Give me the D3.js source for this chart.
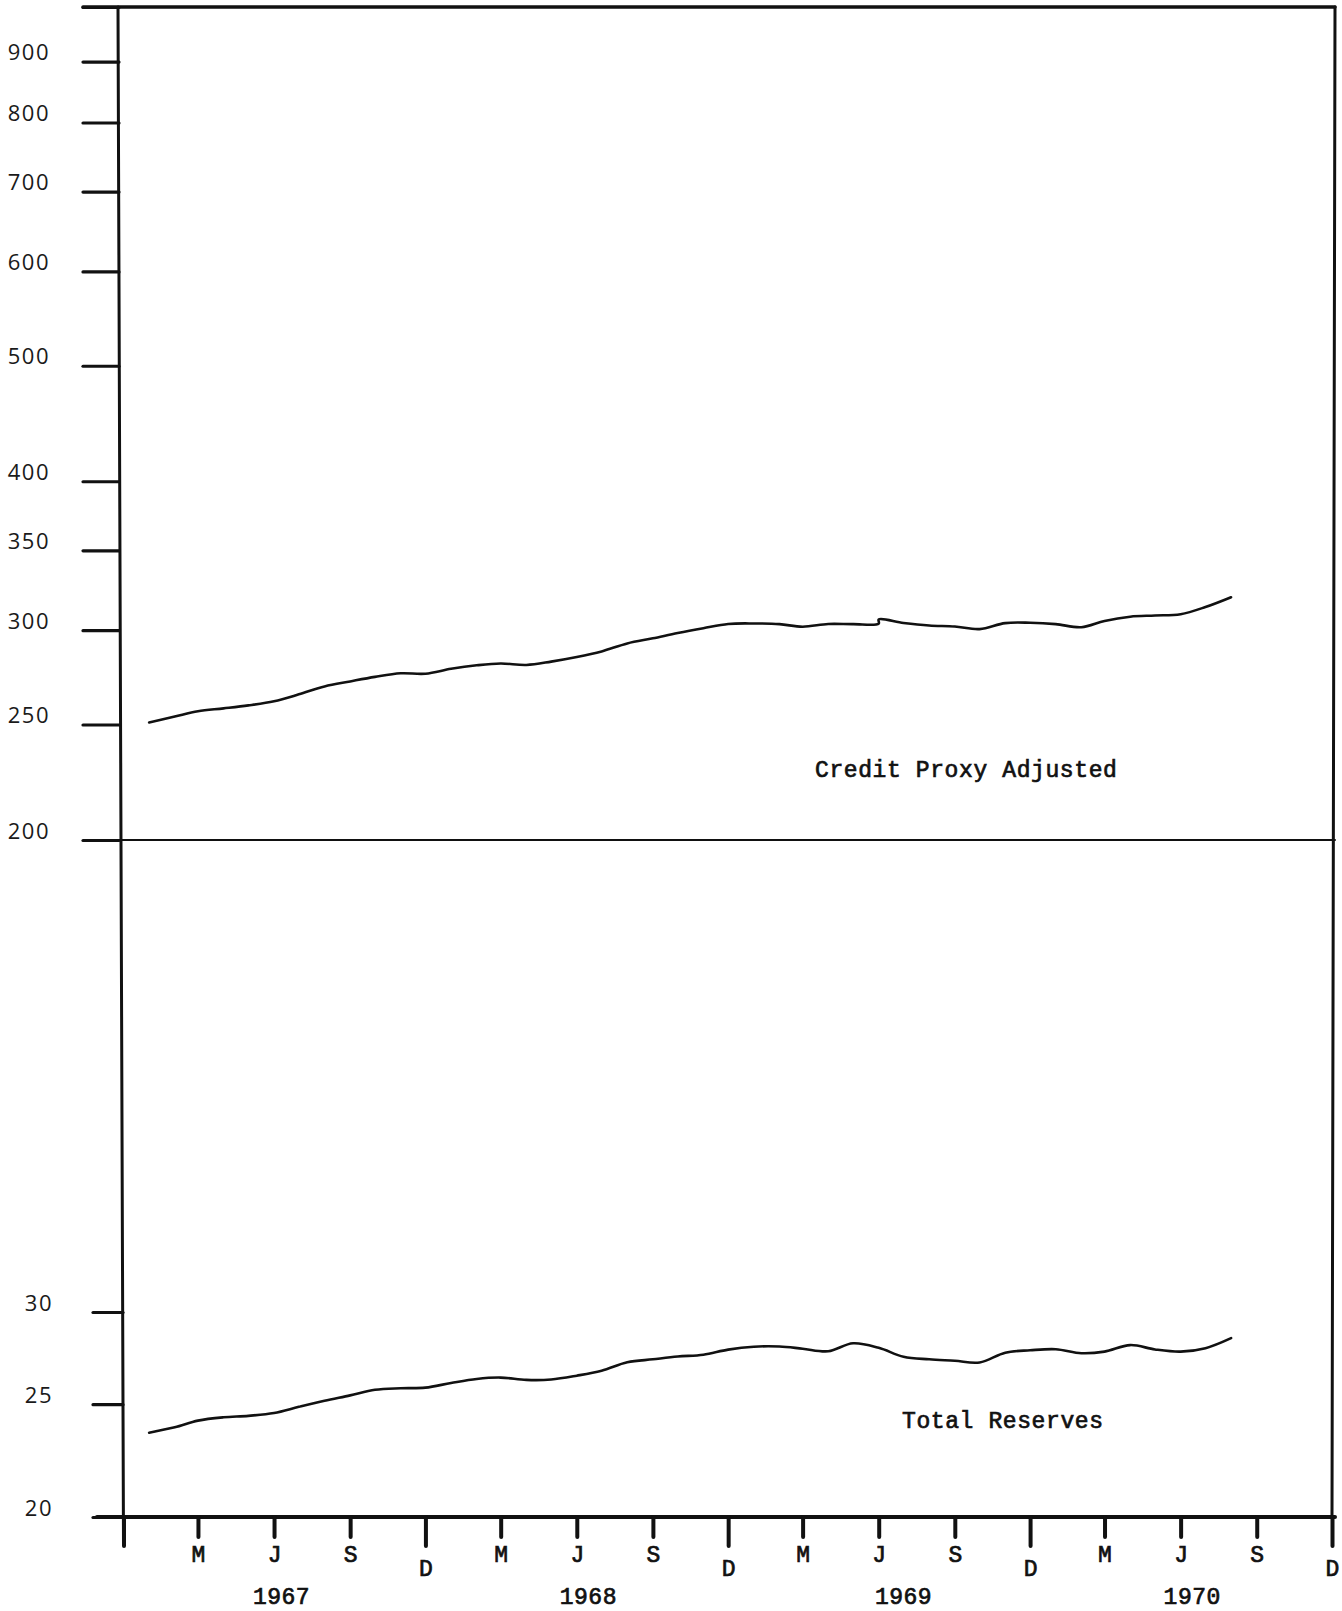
<!DOCTYPE html>
<html><head><meta charset="utf-8">
<script src="https://cdn.jsdelivr.net/npm/d3@7"></script>
<style>
html,body{margin:0;padding:0;background:#fff;}
svg{display:block;}
</style></head>
<body>
<svg id="chart" width="1342" height="1611"></svg>
<script>
// ---------------- DATA ----------------
const creditMonths = [
  "1967-01","1967-02","1967-03","1967-04","1967-05","1967-06","1967-07","1967-08","1967-09","1967-10","1967-11","1967-12",
  "1968-01","1968-02","1968-03","1968-04","1968-05","1968-06","1968-07","1968-08","1968-09","1968-10","1968-11","1968-12",
  "1969-01","1969-02","1969-03","1969-04","1969-05","1969-06","1969-06","1969-07","1969-08","1969-09","1969-10","1969-11","1969-12",
  "1970-01","1970-02","1970-03","1970-04","1970-05","1970-06","1970-07","1970-08"
];
const creditProxyAdjusted = [
  251.0,253.9,256.5,257.9,259.4,261.5,265.0,269.1,271.7,274.1,276.0,275.8,
  278.4,280.3,281.3,280.5,282.3,284.8,287.9,292.4,295.3,298.3,301.1,303.6,
  303.9,303.5,302.0,303.6,303.5,303.8,306.3,304.2,302.7,302.1,300.6,304.1,304.3,
  303.5,301.7,305.4,307.9,308.6,309.4,313.7,319.7
];
const reserveMonths = [
  "1967-01","1967-02","1967-03","1967-04","1967-05","1967-06","1967-07","1967-08","1967-09","1967-10","1967-11","1967-12",
  "1968-01","1968-02","1968-03","1968-04","1968-05","1968-06","1968-07","1968-08","1968-09","1968-10","1968-11","1968-12",
  "1969-01","1969-02","1969-03","1969-04","1969-05","1969-06","1969-07","1969-08","1969-09","1969-10","1969-11","1969-12",
  "1970-01","1970-02","1970-03","1970-04","1970-05","1970-06","1970-07","1970-08"
];
const totalReserves = [
  23.63,23.88,24.20,24.36,24.43,24.57,24.87,25.17,25.44,25.72,25.80,25.83,
  26.07,26.28,26.35,26.23,26.25,26.45,26.71,27.16,27.32,27.47,27.57,27.85,
  28.01,28.02,27.90,27.76,28.20,27.95,27.46,27.32,27.24,27.15,27.68,27.81,
  27.87,27.65,27.74,28.10,27.86,27.74,27.93,28.49
];
const topTicks = [200,250,300,350,400,500,600,700,800,900,1000];
const topTickLabels = ["200","250","300","350","400","500","600","700","800","900",""];
const bottomTicks = [20,25,30];
const bottomTickLabels = ["20","25","30"];
const xTickMonths = ["1966-12","1967-03","1967-06","1967-09","1967-12","1968-03","1968-06","1968-09","1968-12",
  "1969-03","1969-06","1969-09","1969-12","1970-03","1970-06","1970-09","1970-12"];
const xTickLabels = ["","M","J","S","D","M","J","S","D","M","J","S","D","M","J","S","D"];
const yearLabels = ["1967","1968","1969","1970"];
const yearLabelDates = ["1967-06-10","1968-06-15","1969-07-01","1970-06-15"];
const seriesNames = ["Credit Proxy Adjusted","Total Reserves"];

// ---------------- SETUP ----------------
const parseM = d3.timeParse("%Y-%m");
const parseD = d3.timeParse("%Y-%m-%d");
const svg = d3.select("#chart");
const ink = "#111";
const mono = "'Liberation Mono', 'DejaVu Sans Mono', monospace";
const sans = "'Open Sans', 'Noto Sans', sans-serif";

const x = d3.scaleTime()
  .domain([parseM("1966-12"), parseM("1970-12")])
  .range([123.5, 1332]);
const yTop = d3.scaleLog().domain([200, 1000]).range([840, 7]);
const yBot = d3.scaleLog().domain([20, 30]).range([1517, 1312]);

const frame = svg.append("g").attr("fill","none").attr("stroke", ink).attr("stroke-linecap","round");
frame.append("line").attr("x1",83).attr("x2",1335).attr("y1",yTop(1000)).attr("y2",yTop(1000)).attr("stroke-width",3.5);
frame.append("line").attr("x1",1335).attr("x2",1332).attr("y1",yTop(1000)).attr("y2",yBot(20)).attr("stroke-width",3);
frame.append("line").attr("x1",118).attr("x2",123.5).attr("y1",yTop(1000)).attr("y2",1545).attr("stroke-width",3);
frame.append("line").attr("x1",119).attr("x2",1335).attr("y1",yTop(200)).attr("y2",yTop(200)).attr("stroke-width",2);
frame.append("line").attr("x1",97).attr("x2",1335).attr("y1",yBot(20)).attr("y2",yBot(20)).attr("stroke-width",4);

// ---------------- Y AXES ----------------
const topAxis = svg.append("g").attr("transform","translate(119,0)")
  .call(d3.axisLeft(yTop).tickValues(topTicks).tickSize(36).tickPadding(33)
    .tickFormat((d,i)=>topTickLabels[i]));
const botAxis = svg.append("g").attr("transform","translate(123,0)")
  .call(d3.axisLeft(yBot).tickValues(bottomTicks).tickSize(30).tickPadding(40)
    .tickFormat((d,i)=>bottomTickLabels[i]));
[topAxis, botAxis].forEach(g=>{
  g.select(".domain").remove();
  g.selectAll(".tick line").attr("stroke", ink).attr("stroke-width",3.2).attr("stroke-linecap","round");
  g.selectAll(".tick text").attr("fill","#1a1a1a").attr("font-family", sans)
    .attr("font-size",22).attr("letter-spacing",1.5).attr("y",-9);
});

// ---------------- X AXIS ----------------
const typeStyle = sel => sel.attr("font-family", mono).attr("font-weight","normal")
  .attr("fill", ink).attr("stroke", ink).attr("stroke-width",0.7).attr("paint-order","stroke");

const xAxis = svg.append("g").attr("transform",`translate(0,${yBot(20)})`)
  .call(d3.axisBottom(x).tickValues(xTickMonths.map(parseM)).tickSize(20)
    .tickFormat((d,i)=>xTickLabels[i]));
xAxis.select(".domain").remove();
xAxis.selectAll(".tick line").attr("stroke", ink).attr("stroke-width",4).attr("stroke-linecap","round")
  .attr("y2",(d,i)=> (d.getMonth()===11 ? 29 : 20));
xAxis.selectAll(".tick text").call(typeStyle)
  .attr("font-size",23).attr("dy",0)
  .attr("y",(d,i)=> (d.getMonth()===11 ? 59 : 45));

svg.append("g").selectAll("text").data(yearLabels).join("text")
  .attr("x",(d,i)=>x(parseD(yearLabelDates[i])))
  .attr("y",1604)
  .attr("text-anchor","middle")
  .call(typeStyle)
  .attr("font-size",23).attr("letter-spacing",0.5)
  .text(d=>d);

// ---------------- LINES ----------------
const lineTop = d3.line()
  .x((d,i)=>x(parseM(creditMonths[i])))
  .y(d=>yTop(d))
  .curve(d3.curveCatmullRom.alpha(0.5));
const lineBot = d3.line()
  .x((d,i)=>x(parseM(reserveMonths[i])))
  .y(d=>yBot(d))
  .curve(d3.curveCatmullRom.alpha(0.5));

svg.append("path").datum(creditProxyAdjusted).attr("d", lineTop)
  .attr("fill","none").attr("stroke", ink).attr("stroke-width",2.6).attr("stroke-linejoin","round").attr("stroke-linecap","round");
svg.append("path").datum(totalReserves).attr("d", lineBot)
  .attr("fill","none").attr("stroke", ink).attr("stroke-width",2.6).attr("stroke-linejoin","round").attr("stroke-linecap","round");

// ---------------- SERIES LABELS ----------------
svg.append("text").attr("x",815).attr("y",777)
  .call(typeStyle).attr("font-size",23).attr("letter-spacing",0.6)
  .text(seriesNames[0]);
svg.append("text").attr("x",902).attr("y",1428)
  .call(typeStyle).attr("font-size",23).attr("letter-spacing",0.6)
  .text(seriesNames[1]);
</script>
</body></html>
